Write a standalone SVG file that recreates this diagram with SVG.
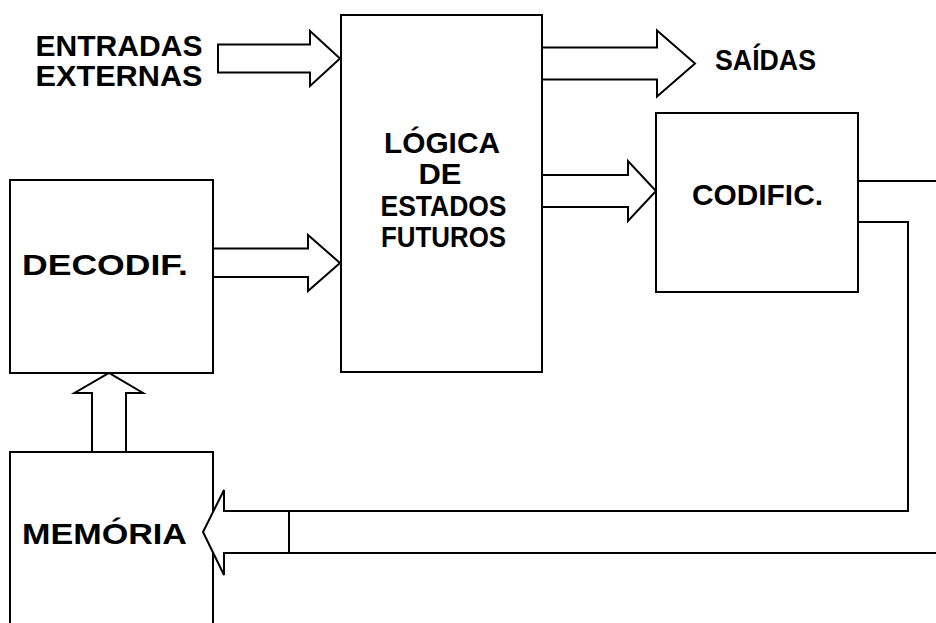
<svg xmlns="http://www.w3.org/2000/svg" width="936" height="623" viewBox="0 0 936 623">
  <style>
    .box { fill: #fff; stroke: #000; stroke-width: 2; }
    .arrow { fill: #fff; stroke: #000; stroke-width: 2; stroke-linejoin: miter; }
    .wire { fill: none; stroke: #000; stroke-width: 2; }
    .lbl { font-family: "Liberation Sans", Arial, sans-serif; font-weight: bold; font-size: 30px; fill: #000; text-anchor: middle; }
  </style>
  <rect width="936" height="623" fill="#fff"/>

  <g id="logica">
    <rect class="box" x="341" y="15" width="201" height="357"/>
    <text class="lbl" x="442" y="153" textLength="116" lengthAdjust="spacingAndGlyphs">LÓGICA</text>
    <text class="lbl" x="440" y="184" textLength="43" lengthAdjust="spacingAndGlyphs">DE</text>
    <text class="lbl" x="443.5" y="215.5" textLength="126" lengthAdjust="spacingAndGlyphs">ESTADOS</text>
    <text class="lbl" x="443.5" y="247" textLength="125" lengthAdjust="spacingAndGlyphs">FUTUROS</text>
  </g>

  <g id="codific">
    <rect class="box" x="656" y="113" width="202" height="179"/>
    <text class="lbl" x="757.5" y="204.5" textLength="131" lengthAdjust="spacingAndGlyphs">CODIFIC.</text>
  </g>

  <g id="decodif">
    <rect class="box" x="10" y="180" width="203" height="193"/>
    <text class="lbl" x="105" y="274.5" textLength="166" lengthAdjust="spacingAndGlyphs">DECODIF.</text>
  </g>

  <g id="memoria">
    <rect class="box" x="10" y="452" width="203" height="200"/>
    <text class="lbl" x="104.5" y="543.5" textLength="165" lengthAdjust="spacingAndGlyphs">MEMÓRIA</text>
  </g>

  <g id="entradas">
    <text class="lbl" x="119" y="55.5" textLength="167" lengthAdjust="spacingAndGlyphs">ENTRADAS</text>
    <text class="lbl" x="119" y="85.5" textLength="167" lengthAdjust="spacingAndGlyphs">EXTERNAS</text>
  </g>

  <g id="saidas">
    <text class="lbl" x="765.5" y="69.5" textLength="101" lengthAdjust="spacingAndGlyphs">SAÍDAS</text>
  </g>

  <g id="connectors">
    <!-- external inputs into the next-state logic -->
    <path class="arrow" d="M218,44.5 H310 V31 L340,58.5 L310,86 V72.5 H218 Z"/>
    <!-- logic to outputs -->
    <path class="arrow" d="M542,47.5 H657 V30.5 L695,63.5 L657,96.5 V79.5 H542 Z"/>
    <!-- logic to encoder -->
    <path class="arrow" d="M542,175 H628 V161 L656,191 L628,221 V207 H542 Z"/>
    <!-- decoder to logic -->
    <path class="arrow" d="M213,248.5 H308 V235 L340,263 L308,291 V277 H213 Z"/>
    <!-- memory to decoder -->
    <path class="arrow" d="M92,452 V393 H74.5 L109,373 L143,393 H126 V452 Z"/>
    <!-- encoder feedback lines -->
    <path class="wire" d="M858,181 H936"/>
    <path class="wire" d="M858,222 H908 V511 H289"/>
    <path class="wire" d="M289,553 H936"/>
    <!-- feedback into memory -->
    <path class="arrow" d="M289,511 H224 V490 L203,532 L224,575 V553 H289 Z"/>
  </g>
</svg>
